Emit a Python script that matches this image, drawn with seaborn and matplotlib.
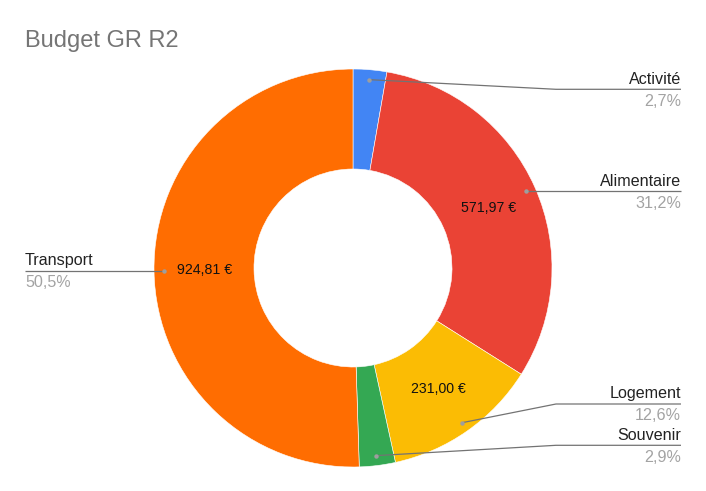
import numpy as np
import matplotlib
matplotlib.use("Agg")
import matplotlib.pyplot as plt
import seaborn as sns

# budget data
categories = ["Activité", "Alimentaire", "Logement", "Souvenir", "Transport"]
values = [50.00, 571.97, 231.00, 53.50, 924.81]
colors = ["#4285F4", "#EA4335", "#FBBC04", "#34A853", "#FF6D01"]
show_value = [False, True, True, False, True]
title = "Budget GR R2"

sns.set_theme(style="white")
plt.rcParams["font.family"] = ["Liberation Sans", "DejaVu Sans"]

W, H = 706, 491
fig = plt.figure(figsize=(W / 100, H / 100), dpi=100)
ax = fig.add_axes([0, 0, 1, 1])

def py(y):
    # pixel row (from top) -> data y
    return H - y

cx, cy, R = 353, py(268), 199
wedges, _ = ax.pie(values, colors=colors, startangle=90, counterclock=False,
                   radius=R, center=(cx, cy), frame=True,
                   wedgeprops=dict(width=100, edgecolor="white", linewidth=0.4))
ax.set_xlim(0, W)
ax.set_ylim(0, H)
ax.axis("off")

total = sum(values)
line_col = "#737373"
dot_col = "#9e9e9e"

# label layout: (side, line y in px, elbow x or None)
layout = {
    "Activité": ("right", 89.3, 556),
    "Alimentaire": ("right", None, None),
    "Logement": ("right", 404, 556),
    "Souvenir": ("right", 445.3, 556),
    "Transport": ("left", None, None),
}

for w, cat, v, sv in zip(wedges, categories, values, show_value):
    mid = np.deg2rad((w.theta1 + w.theta2) / 2)
    dx, dy = cx + 0.95 * R * np.cos(mid), cy + 0.95 * R * np.sin(mid)
    if sv:
        vx, vy = cx + 0.745 * R * np.cos(mid), cy + 0.745 * R * np.sin(mid)
        ax.text(vx, vy, f"{v:.2f} €".replace(".", ","), ha="center", va="center",
                fontsize=10.2, color="#111111")
    side, ly, ex = layout[cat]
    ly = dy if ly is None else py(ly)
    pct = f"{v / total * 100:.1f}%".replace(".", ",")
    if side == "right":
        xs = [dx, ex, 681] if ex else [dx, 681]
        ys = [dy, ly, ly] if ex else [ly, ly]
        tx, ha = 681, "right"
    else:
        xs, ys = [dx, 25], [ly, ly]
        tx, ha = 25, "left"
    ax.plot(xs, ys, color=line_col, lw=0.9, solid_capstyle="butt")
    ax.plot(dx, dy, "o", ms=3.2, color=dot_col, mec="none")
    ax.text(tx, ly + 5.6, cat, ha=ha, va="baseline", fontsize=11.6, color="#222222")
    ax.text(tx, ly - 16.5, pct, ha=ha, va="baseline", fontsize=11.6, color="#a3a3a3")

ax.text(25, py(47), title, ha="left", va="baseline", fontsize=17, color="#757575")

fig.savefig("out.png", dpi=100, facecolor="white")
